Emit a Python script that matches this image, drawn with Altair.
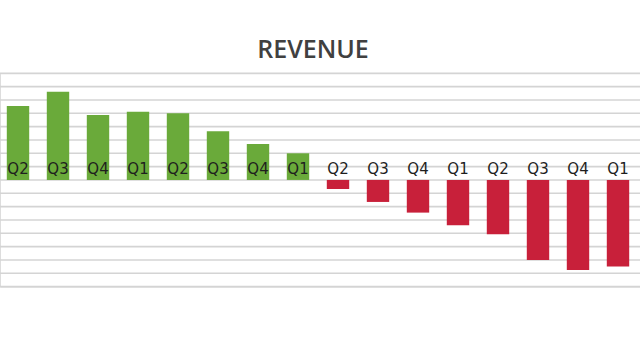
import altair as alt
import pandas as pd

quarters = ["Q2", "Q3", "Q4", "Q1", "Q2", "Q3", "Q4", "Q1",
            "Q2", "Q3", "Q4", "Q1", "Q2", "Q3", "Q4", "Q1"]
revenue = [5.55, 6.62, 4.88, 5.12, 5.0, 3.65, 2.7, 2.0,
           -0.68, -1.65, -2.45, -3.4, -4.08, -6.0, -6.75, -6.5]
grid_values = list(range(-8, 9))

df = pd.DataFrame({
    "idx": list(range(len(quarters))),
    "quarter": quarters,
    "revenue": revenue,
})
df["sign"] = ["pos" if v >= 0 else "neg" for v in revenue]
grid_df = pd.DataFrame({"g": grid_values})

xenc = alt.X("idx:O", axis=None,
             scale=alt.Scale(paddingInner=0.44, paddingOuter=0.22))
yscale = alt.Scale(domain=[-8, 8], nice=False)

grid = alt.Chart(grid_df).mark_rule(color="#d4d4d4", strokeWidth=1.6).encode(
    y=alt.Y("g:Q", scale=yscale, axis=None),
    x=alt.value(0), x2=alt.value(640),
)

bars = alt.Chart(df).mark_bar(xOffset=-2).encode(
    x=xenc,
    y=alt.Y("revenue:Q", scale=yscale, axis=None),
    y2=alt.datum(0),
    color=alt.Color("sign:N", legend=None,
                    scale=alt.Scale(domain=["pos", "neg"],
                                    range=["#6aaa3a", "#c8203a"])),
)

labels = alt.Chart(df).mark_text(
    xOffset=-2, dy=-3, baseline="bottom", fontSize=15,
    font="DejaVu Sans", color="#1e1e1e"
).encode(
    x=xenc,
    y=alt.datum(0),
    text="quarter:N",
)

title = alt.Chart(pd.DataFrame({"t": ["REVENUE"]})).mark_text(
    fontSize=25, font="Open Sans", fontWeight=600, color="#404040",
    baseline="alphabetic", align="center"
).encode(
    x=alt.value(313), y=alt.value(-15), text="t:N"
)

chart = alt.layer(grid, bars, labels, title).properties(
    width=640, height=213.3,
    autosize=alt.AutoSizeParams(type="none"),
    padding={"top": 73.3, "left": 0, "right": 0, "bottom": 73.4},
).configure_view(stroke=None).configure(background="white")

chart.save("out.html", embed_options={"renderer": "svg", "actions": False})
